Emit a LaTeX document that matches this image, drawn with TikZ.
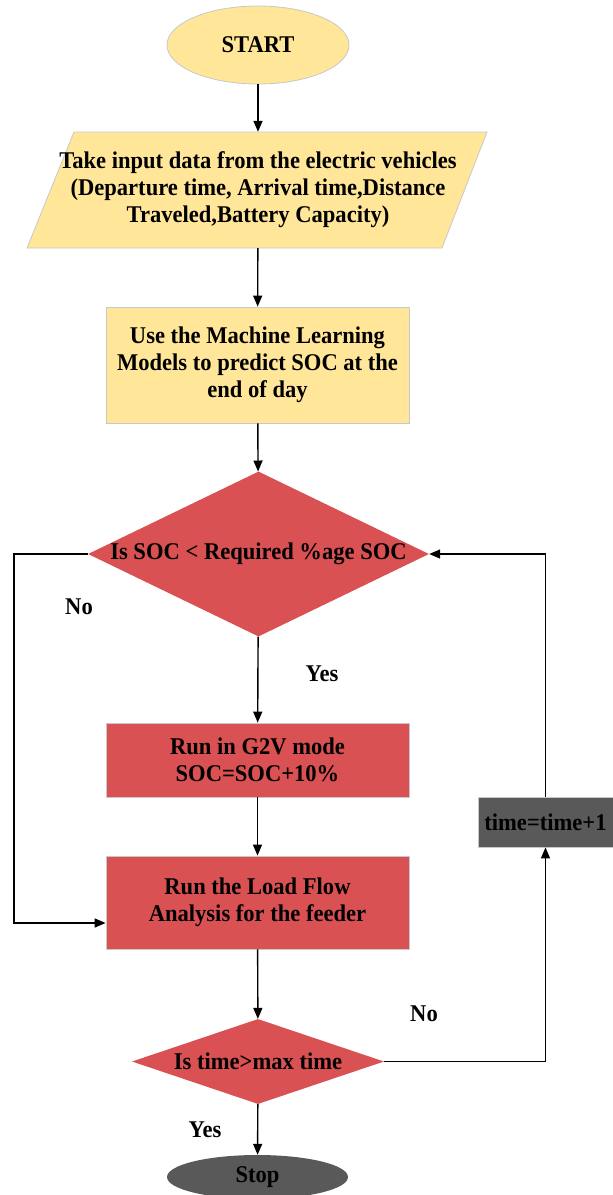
\documentclass[tikz,border=0pt]{standalone}
\usepackage{fontspec}
\setmainfont{Liberation Serif}[FakeStretch=0.94]
\usetikzlibrary{shapes.geometric,arrows.meta,positioning}
\definecolor{yel}{HTML}{FFE699}
\definecolor{redf}{HTML}{D95152}
\definecolor{darkg}{HTML}{595959}
\definecolor{edge}{HTML}{C8C8C8}
\tikzset{
  x=1pt, y=-1pt,
  txt/.style={font=\fontsize{24}{27}\selectfont\bfseries, align=center},
  yelbox/.style={txt, rectangle, fill=yel, draw=edge, line width=0.8pt, inner sep=0pt},
  redbox/.style={txt, rectangle, fill=redf, draw=edge, line width=0.8pt, inner sep=0pt},
  diam/.style={diamond, fill=redf, draw=none, inner sep=0pt},
  term/.style={txt, ellipse, inner sep=0pt},
  arr/.style={-{Triangle[length=11pt,width=9pt]}, line width=1.4pt, black},
  lbl/.style={font=\fontsize{24}{27}\selectfont\bfseries}
}
\begin{document}
\begin{tikzpicture}
\useasboundingbox (0,0) rectangle (613,1195);
% start
\node[term, fill=yel, draw=edge, line width=0.8pt, minimum width=182, minimum height=78] (start) at (258,45) {START};
% input parallelogram
\path[fill=yel, draw=edge, line width=0.8pt] (74,132) -- (487,132) -- (442,248) -- (27,248) -- cycle;
\node[txt, minimum height=116, inner sep=0pt] (input) at (258,190) {Take input data from the electric vehicles\\(Departure time, Arrival time,Distance\\Traveled,Battery Capacity)};
% ML box
\node[yelbox, minimum width=303, minimum height=116] (ml) at (257.5,365) {Use the Machine Learning\\Models to predict SOC at the\\end of day};
% decision 1
\node[diam, minimum width=341, minimum height=165, label={[txt]center:Is SOC < Required \%age SOC}] (d1) at (258.5,554) {};
% G2V
\node[redbox, minimum width=303, minimum height=74] (g2v) at (257.5,760) {Run in G2V mode\\SOC=SOC+10\%};
% load flow
\node[redbox, minimum width=303, minimum height=93] (lf) at (257.5,902.5) {Run the Load Flow\\Analysis for the feeder};
% decision 2
\node[diam, minimum width=252, minimum height=85, label={[txt]center:Is time>max time}] (d2) at (258,1061.5) {};
% stop
\node[term, fill=darkg, draw=none, minimum width=181, minimum height=44] (stop) at (257.5,1177) {Stop};
% time box
\node[txt, rectangle, fill=darkg, draw=edge, line width=0.8pt, inner sep=0pt, minimum width=135, minimum height=50] (time) at (545.5,822) {time=time+1};
% coordinates
\coordinate (leftx) at (14,554);
% connectors
\draw[arr] (start) -- (input);
\draw[arr] (input) -- (ml);
\draw[arr] (ml) -- (d1);
\draw[arr] (d1) -- (g2v);
\draw[arr] (g2v) -- (lf);
\draw[arr] (lf) -- (d2);
\draw[arr] (d2) -- (stop);
\draw[arr] (d1.west) -- (leftx) |- ([yshift=-20.5pt]lf.west);
\draw[arr] (d2.east) -| (time.south);
\draw[arr] (time.north) |- (d1.east);
% labels
\node[lbl] (no1) at (79,607) {No};
\node[lbl] (yes1) at (322,674) {Yes};
\node[lbl] (no2) at (424,1014) {No};
\node[lbl] (yes2) at (205,1130) {Yes};
\end{tikzpicture}
\end{document}
